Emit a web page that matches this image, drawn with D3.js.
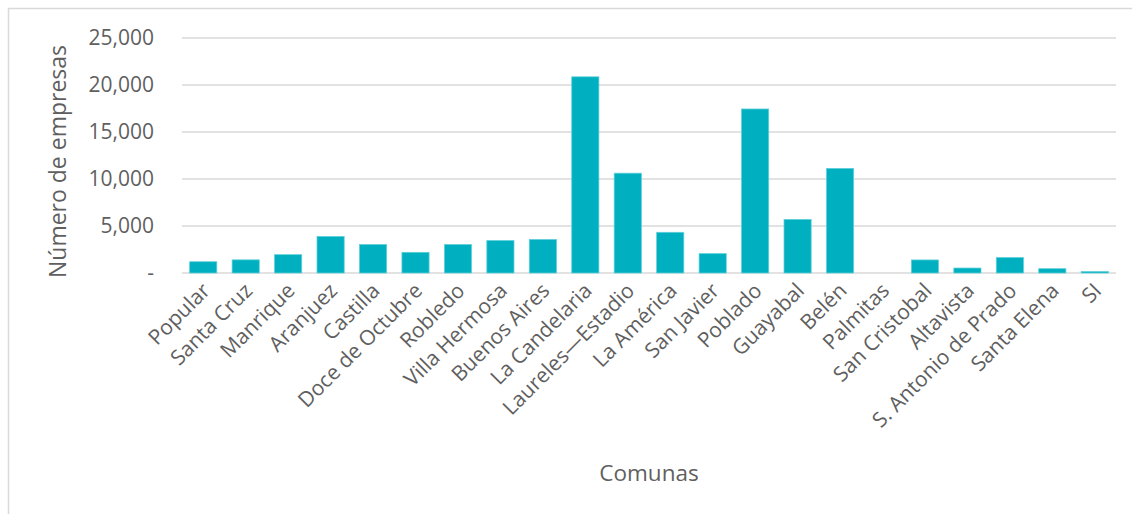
<!DOCTYPE html>
<html><head><meta charset="utf-8">
<script src="https://cdn.jsdelivr.net/npm/d3@7"></script>
<style>
body{margin:0;background:#fff;}
svg{display:block;font-family:"Open Sans",sans-serif;}
</style></head>
<body><svg id="c" width="1132" height="514"></svg>
<script>
const categories = ["Popular","Santa Cruz","Manrique","Aranjuez","Castilla","Doce de Octubre","Robledo","Villa Hermosa","Buenos Aires","La Candelaria","Laureles\u2014Estadio","La América","San Javier","Poblado","Guayabal","Belén","Palmitas","San Cristobal","Altavista","S. Antonio de Prado","Santa Elena","SI"];
const values = [1200,1400,1950,3890,3030,2200,3030,3460,3570,20870,10620,4330,2060,17450,5700,11130,0,1390,530,1640,460,150];
const yTicks = [0,5000,10000,15000,20000,25000];
const yTickLabels = ["-","5,000","10,000","15,000","20,000","25,000"];
const xTitle = "Comunas";
const yTitle = "Número de empresas";

const svg = d3.select("#c");
const W = 1132, H = 514;
const m = {left:182, right:W-1116, top:38, bottom:H-273};
const textColor = "#5f5f5f";

svg.append("rect").attr("x",8.5).attr("y",8.5).attr("width",W+20).attr("height",H+20)
  .attr("fill","#fff").attr("stroke","#d9d9d9").attr("stroke-width",1.5);

const x = d3.scaleBand().domain(categories).range([m.left, W-m.right]).paddingInner(0.36).paddingOuter(0.18);
const y = d3.scaleLinear().domain([0,25000]).range([H-m.bottom, m.top]);

// gridlines
svg.append("g").selectAll("line").data(yTicks).join("line")
  .attr("x1",m.left).attr("x2",W-m.right)
  .attr("y1",d=>y(d)).attr("y2",d=>y(d))
  .attr("stroke","#d9d9d9").attr("stroke-width",1.5);

// y axis labels
const yAxis = d3.axisLeft(y).tickValues(yTicks).tickFormat((d,i)=>yTickLabels[i]).tickSize(0).tickPadding(28);
const gy = svg.append("g").attr("transform",`translate(${m.left},0)`).call(yAxis);
gy.select(".domain").remove();
gy.selectAll("text").attr("fill",textColor).style("font-size","21px").style("font-family","'Open Sans',sans-serif");

// bars
svg.append("g").selectAll("rect").data(values).join("rect")
  .attr("x",(d,i)=>x(categories[i]))
  .attr("width",x.bandwidth())
  .attr("y",d=>y(d))
  .attr("height",d=>y(0)-y(d))
  .attr("fill","#00B0C0")
  .attr("stroke","#5fd0da").attr("stroke-width",0.75);

// x axis labels
const xAxis = d3.axisBottom(x).tickSize(0).tickPadding(0);
const gx = svg.append("g").attr("transform",`translate(0,${y(0)})`).call(xAxis);
gx.select(".domain").remove();
gx.selectAll("text")
  .attr("fill",textColor).style("font-size","21px").style("font-family","'Open Sans',sans-serif")
  .attr("text-anchor","end").attr("dy","0")
  .attr("transform","translate(8,19) rotate(-45)");

// titles
svg.append("text").attr("x",(m.left+W-m.right)/2).attr("y",481)
  .attr("text-anchor","middle").attr("fill",textColor).style("font-size","22.5px").text(xTitle);
svg.append("text").attr("transform",`translate(66,${(y(0)+y(25000))/2+6}) rotate(-90)`)
  .attr("text-anchor","middle").attr("fill",textColor).style("font-size","23px").text(yTitle);
</script></body></html>
